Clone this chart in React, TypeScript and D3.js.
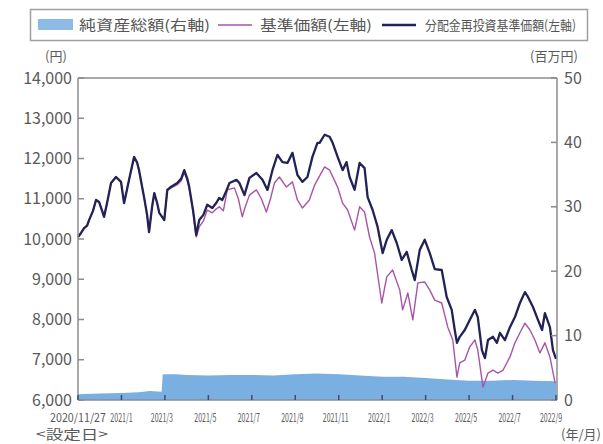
import React from "react";
import * as d3 from "d3";

// x position = month slot on the axis (0 = 2020/11/27 設定日, 2 = 2021/1, ... 22 = 2022/9)
const xTickLabels = ["2020/11/27", "2021/1", "2021/3", "2021/5", "2021/7", "2021/9", "2021/11", "2022/1", "2022/3", "2022/5", "2022/7", "2022/9"];
const xTickPos = [0, 2, 4, 6, 8, 10, 12, 14, 16, 18, 20, 22];
const leftTicks = [6000, 7000, 8000, 9000, 10000, 11000, 12000, 13000, 14000];
const rightTicks = [0, 10, 20, 30, 40, 50];

// 純資産総額 (百万円)
const netAssets: [number, number][] = [
  [0, 0.9], [1, 1.0], [2, 1.1], [2.8, 1.2], [3.3, 1.4], [3.85, 1.3], [3.9, 4.0], [4.5, 4.0], [5, 3.9], [6, 3.8], [7, 3.9], [8, 3.9], [9, 3.8],
  [10, 4.0], [11, 4.1], [12, 4.0], [13, 3.8], [14, 3.6], [15, 3.6], [16, 3.4], [17, 3.2], [18, 3.0], [19, 3.0], [20, 3.1], [21, 3.0], [22, 2.9],
];

// 基準価額 (円)
const nav: [number, number][] = [
  [0, 10050], [0.14, 10150], [0.28, 10270], [0.42, 10330], [0.51, 10470], [0.69, 10700], [0.83, 10970], [0.97, 10920], [1.11, 10700],
  [1.2, 10550], [1.34, 10900], [1.52, 11390], [1.75, 11540], [1.98, 11420], [2.12, 10890], [2.35, 11470], [2.58, 12040], [2.72, 11900],
  [2.81, 11710], [2.95, 11300], [3.04, 11040], [3.18, 10600], [3.27, 10170], [3.41, 10800], [3.51, 11140], [3.64, 10900], [3.74, 10650],
  [3.87, 10550], [3.97, 10470], [4.11, 11200], [4.29, 11270], [4.57, 11350], [4.75, 11450], [4.89, 11650], [5.03, 11450], [5.12, 11250],
  [5.3, 10650], [5.44, 10050], [5.58, 10300], [5.77, 10450], [5.95, 10720], [6.18, 10650], [6.37, 10750], [6.5, 10800], [6.69, 10700],
  [6.87, 11220], [7.2, 11270], [7.38, 11000], [7.56, 10550], [7.7, 10800], [7.89, 11090], [8.21, 11220], [8.44, 11000], [8.67, 10670],
  [8.86, 11000], [9.04, 11390], [9.27, 11540], [9.59, 11290], [9.87, 11420], [10.1, 10970], [10.33, 10770], [10.65, 10970], [10.89, 11340],
  [11.02, 11470], [11.35, 11790], [11.58, 11710], [11.95, 11290], [12.18, 10890], [12.41, 10720], [12.73, 10220], [12.96, 10800],
  [13.19, 10670], [13.42, 10050], [13.65, 9650], [13.98, 8410], [14.21, 9060], [14.48, 9230], [14.81, 8730], [14.94, 8240], [15.18, 8660],
  [15.41, 7990], [15.64, 8910], [15.96, 8930], [16.19, 8730], [16.42, 8480], [16.74, 8410], [17.02, 7810], [17.25, 7490], [17.44, 6570],
  [17.57, 6920], [17.8, 6990], [18.03, 7320], [18.27, 7490], [18.4, 7240], [18.64, 6320], [18.87, 6670], [19.1, 6740], [19.33, 6670],
  [19.56, 6740], [19.88, 7070], [20.11, 7420], [20.34, 7670], [20.57, 7910], [20.8, 7740], [21.03, 7490], [21.26, 7170], [21.49, 7420],
  [21.72, 7070], [21.96, 6420],
];

// 分配金再投資基準価額 (円)
const reinvestedNav: [number, number][] = [
  [0, 10050], [0.14, 10150], [0.28, 10270], [0.42, 10330], [0.51, 10470], [0.69, 10700], [0.83, 10970], [0.97, 10920], [1.11, 10700],
  [1.2, 10550], [1.34, 10900], [1.52, 11390], [1.75, 11540], [1.98, 11420], [2.12, 10890], [2.35, 11470], [2.58, 12040], [2.72, 11900],
  [2.81, 11710], [2.95, 11300], [3.04, 11040], [3.18, 10600], [3.27, 10170], [3.41, 10800], [3.51, 11140], [3.64, 10900], [3.74, 10650],
  [3.87, 10550], [3.97, 10470], [4.11, 11220], [4.29, 11300], [4.57, 11390], [4.75, 11500], [4.89, 11710], [5.03, 11500], [5.12, 11290],
  [5.3, 10700], [5.44, 10100], [5.58, 10470], [5.77, 10600], [5.95, 10850], [6.18, 10770], [6.37, 10900], [6.5, 11020], [6.64, 10970],
  [6.83, 11200], [6.97, 11390], [7.29, 11470], [7.43, 11390], [7.66, 11090], [7.89, 11520], [8.21, 11640], [8.49, 11470], [8.72, 11220],
  [8.95, 11710], [9.18, 12090], [9.41, 11910], [9.64, 11890], [9.87, 12140], [10.1, 11590], [10.33, 11420], [10.56, 11540], [10.79, 12040],
  [11.02, 12390], [11.12, 12390], [11.35, 12590], [11.58, 12540], [11.72, 12390], [11.95, 12040], [12.18, 11710], [12.36, 11910],
  [12.5, 11540], [12.73, 11220], [12.96, 11890], [13.19, 11760], [13.33, 11040], [13.56, 10720], [13.79, 10300], [14.02, 9650],
  [14.21, 9980], [14.44, 10220], [14.67, 9900], [14.9, 9480], [15.13, 9680], [15.36, 9230], [15.5, 8980], [15.73, 9730], [15.96, 9980],
  [16.19, 9650], [16.42, 9250], [16.74, 9230], [16.97, 8560], [17.2, 8240], [17.34, 7740], [17.44, 7420], [17.57, 7570], [17.8, 7740],
  [18.03, 7990], [18.27, 8240], [18.4, 8060], [18.59, 7240], [18.73, 7040], [18.87, 7490], [19.1, 7570], [19.28, 7420], [19.42, 7670],
  [19.65, 7490], [19.88, 7810], [20.11, 8060], [20.34, 8410], [20.57, 8680], [20.71, 8560], [20.94, 8310], [21.17, 7990], [21.36, 7740],
  [21.49, 8160], [21.72, 7810], [21.86, 7240], [22, 7020],
];

const W = 603;
const H = 444;
const left = 78;
const right = 557;
const top = 78;
const bottom = 400;

const FONT = "'Noto Sans CJK JP', 'Noto Sans', sans-serif";
const AXIS = "#8c8c8c";
const TXT = "#5a5a5a";
const NAVY = "#222257";
const PURPLE = "#a855a8";
const BLUE = "#7aafe2";

export default function App() {
  const x = d3.scaleLinear().domain([0, 22]).range([left, right - 1]);
  const yL = d3.scaleLinear().domain([6000, 14000]).range([bottom, top]);
  const yR = d3.scaleLinear().domain([0, 50]).range([bottom, top]);

  const area = d3
    .area<[number, number]>()
    .x((d) => x(d[0]))
    .y0(yR(0))
    .y1((d) => yR(d[1]));
  const lineL = d3
    .line<[number, number]>()
    .x((d) => x(d[0]))
    .y((d) => yL(d[1]));
  const fmt = d3.format(",");

  return (
    <svg width={W} height={H} style={{ position: "absolute", left: 0, top: 0, background: "#fff" }} fontFamily={FONT}>
      {/* legend */}
      <rect x={30.5} y={9.5} width={557} height={31} fill="#fff" stroke="#a0a0a0" strokeWidth={1.5} />
      <rect x={38} y={19} width={35} height={11} fill={BLUE} opacity={0.85} />
      <text x={79} y={30} fontSize={14} fill="#555" textLength={131} lengthAdjust="spacingAndGlyphs">純資産総額(右軸)</text>
      <line x1={218} x2={252} y1={25} y2={25} stroke={PURPLE} strokeWidth={1.5} />
      <text x={260} y={30} fontSize={14} fill="#555" textLength={112} lengthAdjust="spacingAndGlyphs">基準価額(左軸)</text>
      <line x1={382} x2={416} y1={25} y2={25} stroke={NAVY} strokeWidth={2.5} />
      <text x={425} y={30} fontSize={13} fill="#555" textLength={151} lengthAdjust="spacingAndGlyphs">分配金再投資基準価額(左軸)</text>

      {/* unit labels */}
      <text x={56} y={61} fontSize={13} fill={TXT} textAnchor="middle">(円)</text>
      <text x={554} y={61} fontSize={13} fill={TXT} textAnchor="middle">(百万円)</text>

      {/* net assets area */}
      <path d={area(netAssets) ?? ""} fill={BLUE} />

      {/* lines */}
      <path d={lineL(nav) ?? ""} fill="none" stroke={PURPLE} strokeWidth={1.4} strokeLinejoin="round" />
      <path d={lineL(reinvestedNav) ?? ""} fill="none" stroke={NAVY} strokeWidth={2.3} strokeLinejoin="round" />

      {/* frame */}
      <line x1={left} x2={right} y1={top} y2={top} stroke={AXIS} strokeWidth={1.5} />
      <line x1={left} x2={right} y1={bottom} y2={bottom} stroke={AXIS} strokeWidth={1.5} />
      <line x1={left} x2={left} y1={top} y2={bottom} stroke={AXIS} strokeWidth={1.5} />
      <line x1={right} x2={right} y1={top} y2={bottom} stroke={AXIS} strokeWidth={1.5} />

      {/* left ticks */}
      {leftTicks.map((v) => (
        <g key={"l" + v}>
          <line x1={left} x2={left + 6} y1={yL(v)} y2={yL(v)} stroke={AXIS} strokeWidth={1.5} />
          <text x={72} y={yL(v)} dy="0.35em" fontSize={16} fill={TXT} textAnchor="end">{fmt(v)}</text>
        </g>
      ))}

      {/* right ticks */}
      {rightTicks.map((v) => (
        <g key={"r" + v}>
          <line x1={right - 6} x2={right} y1={yR(v)} y2={yR(v)} stroke={AXIS} strokeWidth={1.5} />
          <text x={564} y={yR(v)} dy="0.35em" fontSize={16} fill={TXT} textAnchor="start">{v}</text>
        </g>
      ))}

      {/* x ticks */}
      {xTickPos.map((p, i) => {
        const lbl = xTickLabels[i];
        const w = i === 0 ? 56 : lbl.length * 3.7;
        const off = i === 0 || i === 1 ? 0 : i === xTickPos.length - 1 ? -5 : -3;
        return (
          <g key={"x" + p}>
            <line x1={x(p)} x2={x(p)} y1={bottom} y2={bottom - 5} stroke="#3b4a78" strokeWidth={1.5} />
            <text x={x(p) + off} y={422} fontSize={11.5} fill={TXT} textAnchor="middle" textLength={w} lengthAdjust="spacingAndGlyphs">{lbl}</text>
          </g>
        );
      })}
      <text x={72} y={439} fontSize={13} fill={TXT} textAnchor="middle" textLength={72} lengthAdjust="spacingAndGlyphs">&lt;設定日&gt;</text>
      <text x={581} y={439} fontSize={13} fill={TXT} textAnchor="middle">(年/月)</text>
    </svg>
  );
}
